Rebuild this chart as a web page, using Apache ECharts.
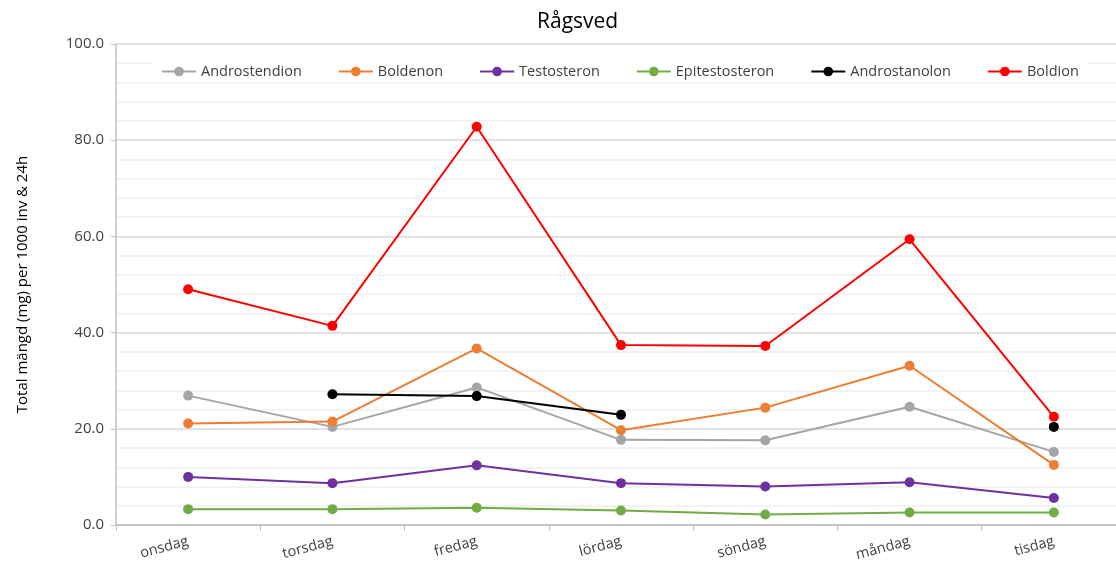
<!DOCTYPE html>
<html>
<head>
<meta charset="utf-8">
<script src="https://cdn.jsdelivr.net/npm/echarts@6/dist/echarts.min.js"></script>
<style>html,body{margin:0;padding:0;background:#fff}#c{width:1116px;height:572px}</style>
</head>
<body>
<div id="c"></div>
<script>
var categories = ['onsdag', 'torsdag', 'fredag', 'lördag', 'söndag', 'måndag', 'tisdag'];
var androstendion = [26.9, 20.4, 28.6, 17.7, 17.6, 24.6, 15.2];
var boldenon = [21.1, 21.5, 36.7, 19.7, 24.4, 33.1, 12.5];
var testosteron = [10.0, 8.7, 12.4, 8.7, 8.0, 8.9, 5.6];
var epitestosteron = [3.3, 3.3, 3.6, 3.0, 2.2, 2.6, 2.6];
var androstanolon = [null, 27.2, 26.8, 22.9, null, null, 20.4];
var boldion = [49.0, 41.4, 82.8, 37.4, 37.2, 59.4, 22.5];
var yTicks = [0, 20, 40, 60, 80, 100];

var FONT = 'Open Sans';
function mk(name, data, color) {
  return {
    name: name, type: 'line', data: data,
    symbol: 'circle', symbolSize: 10, showSymbol: true, showAllSymbol: true,
    connectNulls: false,
    lineStyle: { color: color, width: 2 },
    itemStyle: { color: color },
    emphasis: { disabled: true },
    animation: false
  };
}
var chart = echarts.init(document.getElementById('c'));
chart.setOption({
  animation: false,
  title: {
    text: 'Rågsved', left: 532, top: 7,
    textStyle: { fontFamily: FONT, fontSize: 21, fontWeight: 'normal', color: '#000' }
  },
  legend: {
    top: 61, left: 153,
    backgroundColor: '#fff',
    padding: [3, 8, 3, 8],
    itemGap: 36, itemWidth: 34, itemHeight: 12,
    textStyle: { fontFamily: FONT, fontSize: 14.5, color: '#404040' },
    data: ['Androstendion', 'Boldenon', 'Testosteron', 'Epitestosteron', 'Androstanolon', 'Boldion']
  },
  grid: { left: 116, width: 1010, top: 44, height: 481, containLabel: false, outerBoundsMode: 'none' },
  xAxis: {
    type: 'category', data: categories, boundaryGap: true,
    axisLine: { lineStyle: { color: '#bfbfbf', width: 1.5 } },
    axisTick: { show: true, length: 6, lineStyle: { color: '#bfbfbf' } },
    axisLabel: { rotate: 15, margin: 16, fontFamily: FONT, fontSize: 14.5, color: '#404040' },
    splitLine: { show: false }
  },
  yAxis: {
    type: 'value', min: yTicks[0], max: yTicks[yTicks.length - 1], interval: 20,
    name: 'Total mängd (mg) per 1000 inv & 24h', nameLocation: 'middle', nameGap: 86,
    nameTextStyle: { fontFamily: FONT, fontSize: 15, color: '#000' },
    axisLine: { show: true, lineStyle: { color: '#bfbfbf', width: 1.5 } },
    axisTick: { show: true, length: 5, lineStyle: { color: '#bfbfbf' } },
    axisLabel: { margin: 12, fontFamily: FONT, fontSize: 15, color: '#404040',
      formatter: function (v) { return v.toFixed(1); } },
    splitLine: { show: true, lineStyle: { color: '#d9d9d9', width: 1.5 } },
    minorTick: { show: false, splitNumber: 5 },
    minorSplitLine: { show: true, lineStyle: { color: '#f0f0f0', width: 1.5 } }
  },
  series: [
    mk('Androstendion', androstendion, '#a5a5a5'),
    mk('Boldenon', boldenon, '#ed7d31'),
    mk('Testosteron', testosteron, '#7030a0'),
    mk('Epitestosteron', epitestosteron, '#70ad47'),
    mk('Androstanolon', androstanolon, '#000000'),
    mk('Boldion', boldion, '#ff0000')
  ]
});
</script>
</body>
</html>
